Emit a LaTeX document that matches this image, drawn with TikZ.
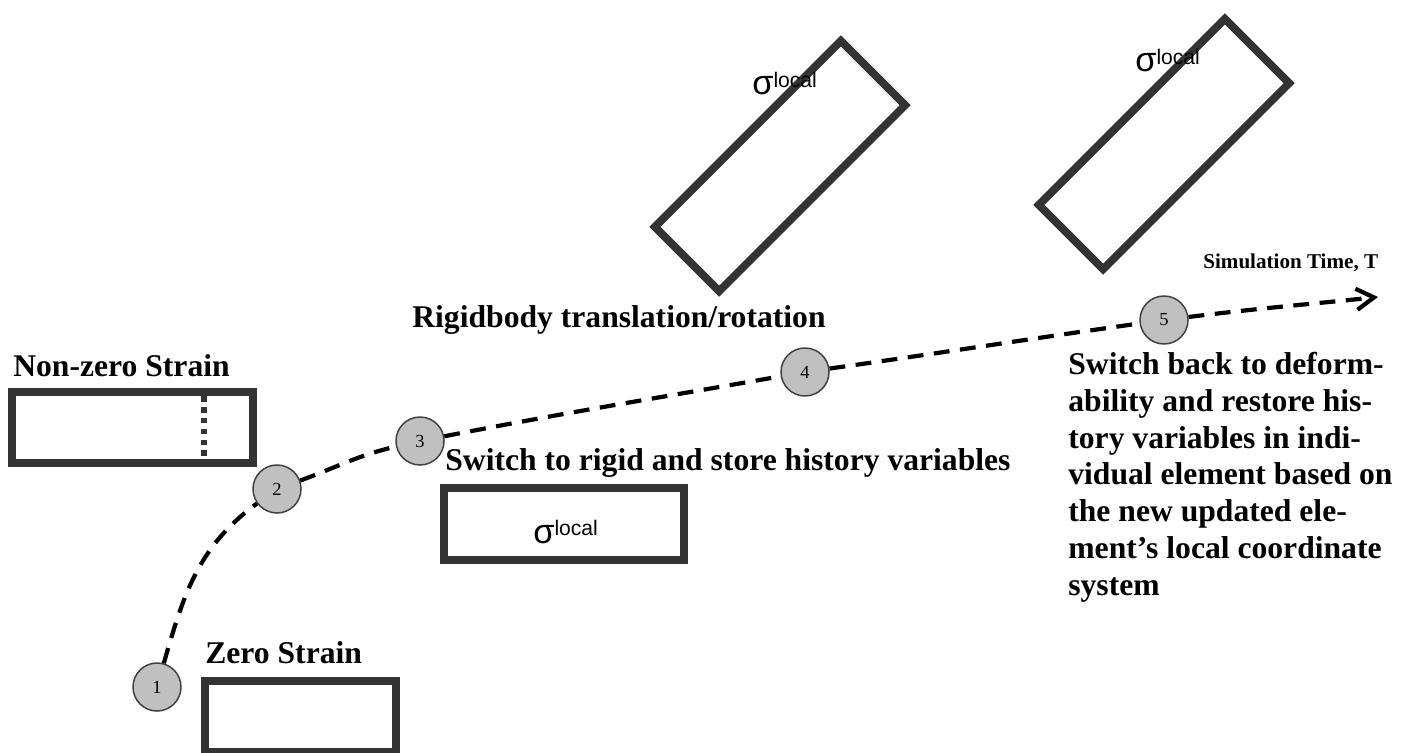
\documentclass[tikz,border=0pt]{standalone}
\usepackage{fontspec}
\setmainfont{Liberation Serif}
\newfontfamily\sigfont{Liberation Sans}
\usetikzlibrary{arrows.meta}

\definecolor{boxgray}{RGB}{51,51,51}
\definecolor{rimgray}{RGB}{64,64,64}
\definecolor{discgray}{RGB}{192,192,192}
\newcommand{\sigloc}{{\fontsize{19.5}{20}\selectfont σ}\raisebox{4.5pt}{\fontsize{12}{12}\selectfont local}}

\tikzset{
  elem/.style={draw=boxgray, line width=4.5pt},
  stage/.style={circle, draw=rimgray, fill=discgray, line width=0.85pt, minimum size=0.96cm, inner sep=0pt, font=\fontsize{10.5}{12}\selectfont},
  caption/.style={anchor=base west, inner sep=0pt, align=left, font=\fontsize{18}{20.9}\selectfont\bfseries},
  stress/.style={anchor=base west, inner sep=0pt, font=\sigfont},
  timeline/.style={dash pattern=on 9pt off 6pt, line width=2.4pt},
}

\begin{document}
\begin{tikzpicture}[x=0.02cm, y=-0.02cm]
\useasboundingbox (0,0) rectangle (1415,753);
% elements
\draw[elem] (12,392) rectangle (253,463);
\draw[boxgray, line width=3.6pt, dash pattern=on 3.2pt off 3pt] (204,396) -- (204,461);
\draw[elem] (205,681) rectangle (396,752);
\draw[elem] (444,488) rectangle (684,560);
\node[elem, rotate=45, minimum width=5.26cm, minimum height=1.82cm, inner sep=0pt] (rot1) at (780,166) {};
\node[elem, rotate=45, minimum width=5.26cm, minimum height=1.82cm, inner sep=0pt] (rot2) at (1164,144) {};
\node[stress] (s1) at (533,543) {\sigloc};
\node[stress] (s2) at (752,95) {\sigloc};
\node[stress] (s3) at (1135,72) {\sigloc};
% labels
\node[caption] (nzs) at (13,376) {Non-zero Strain};
\node[caption] (zs) at (205,663) {Zero Strain};
\node[caption] (store) at (445,470) {Switch to rigid and store history variables};
\node[caption] (rigid) at (412,327) {Rigidbody translation/rotation};
\node[caption, font=\fontsize{12}{14}\selectfont\bfseries] (simtime) at (1203,268) {Simulation Time, T};
\node[caption] (restore) at (1068,595) {Switch back to deform-\\ability and restore his-\\tory variables in indi-\\vidual element based on\\the new updated ele-\\ment’s local coordinate\\system};
% time line
\node[stage] (c1) at (157,687) {1};
\node[stage] (c2) at (277,489) {2};
\node[stage] (c3) at (420,441) {3};
\node[stage] (c4) at (805,372) {4};
\node[stage] (c5) at (1164,320) {5};
\coordinate (tip) at (1378,297);
\draw[timeline, -{Straight Barb[length=10pt, width=12pt, line width=2.4pt]}] (c1) to[out=74, in=216] (c2) to[out=20, in=193] (c3) to[out=11, in=190] (c4) to[out=8, in=188] (c5) to[out=7, in=186] (tip);
\end{tikzpicture}
\end{document}
